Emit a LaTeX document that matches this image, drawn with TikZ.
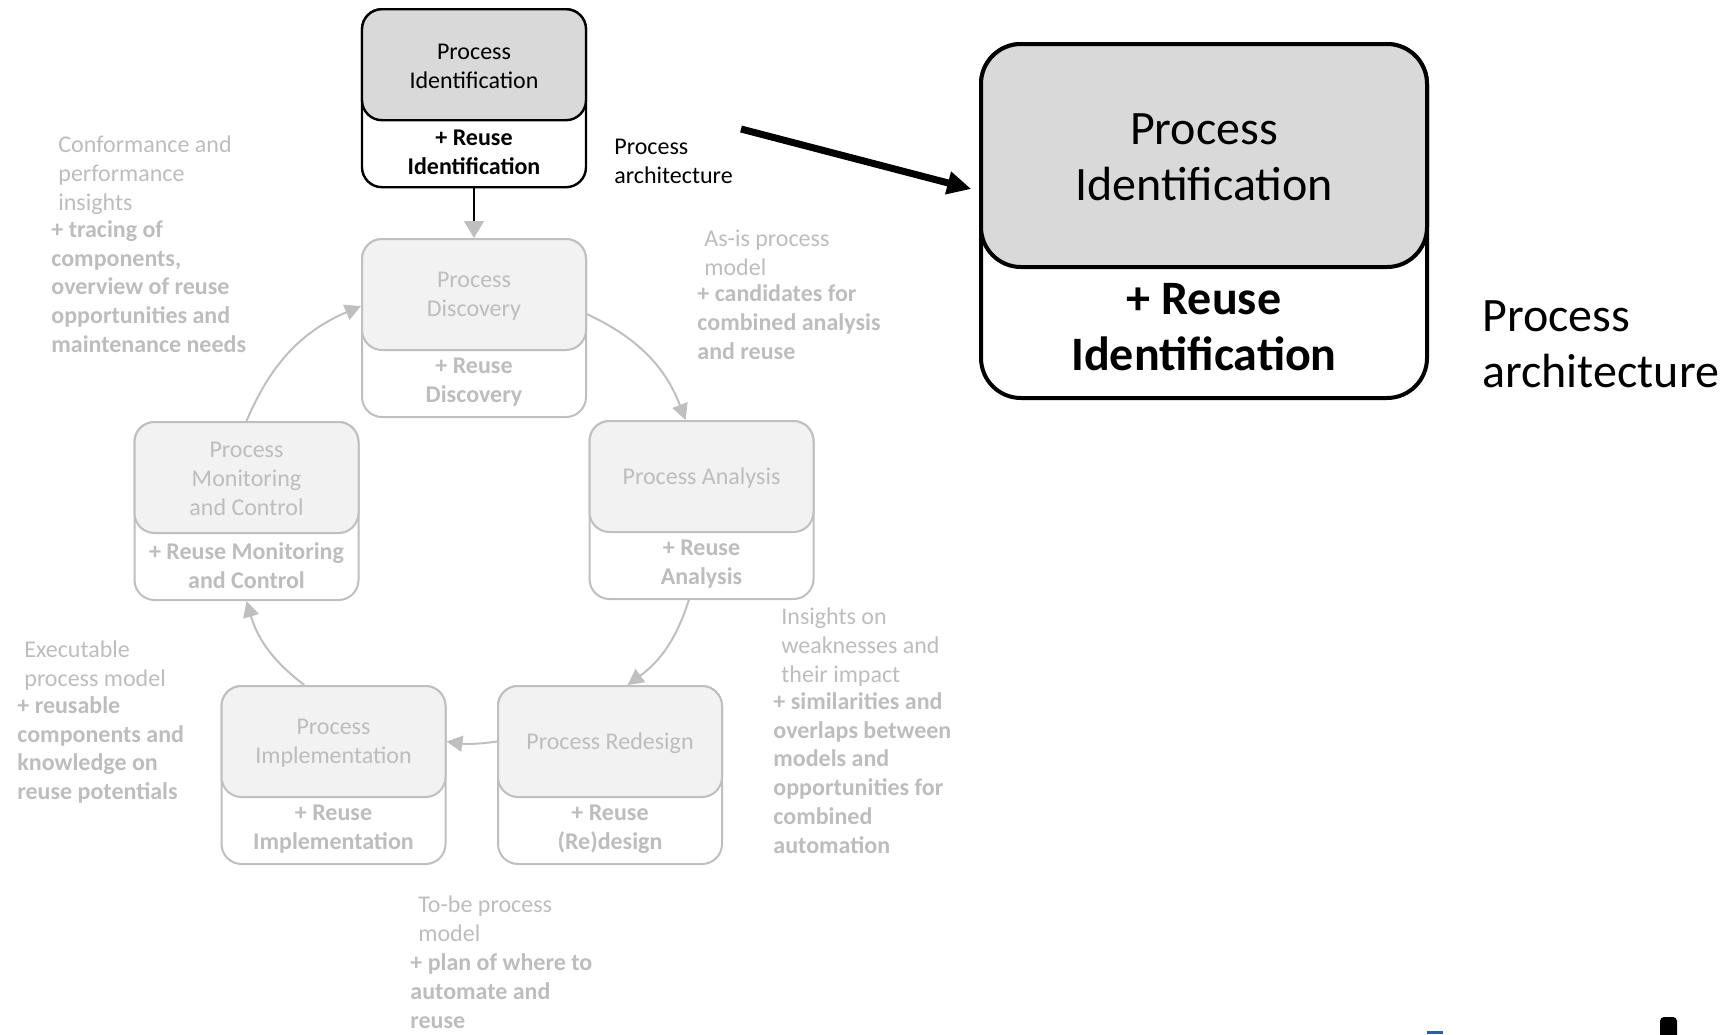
\documentclass[tikz,border=0pt]{standalone}
\usepackage{fontspec}
\setmainfont{Carlito}
\usetikzlibrary{arrows.meta}

\definecolor{headgray}{HTML}{D9D9D9}
\definecolor{fadefill}{HTML}{F2F2F2}
\definecolor{fadeline}{HTML}{BFBFBF}
\definecolor{fadetext}{HTML}{BDBDBD}
\definecolor{linkblue}{HTML}{2E5FA3}

\newcommand\smallfont{\fontsize{12pt}{14.5pt}\selectfont}
\newcommand\largefont{\fontsize{24pt}{28pt}\selectfont}

% one phase of the life cycle: outer frame, shaded head, title, bold footer
% #1 name, #2 centre x, #3 top y, #4 look (strong/fade), #5 head text, #6 footer text
\newcommand\phase[6]{%
  \node[#4frame, anchor=north] (#1) at (#2,#3) {};
  \node[#4head, anchor=north] (#1-head) at (#1.north) {};
  \node[#4title] (#1-title) at (#2,#3+58) {#5};
  \node[#4foot] (#1-foot) at (#2,#3+144.5) {#6};
}

\tikzset{
  framebase/.style={rounded corners=10pt, minimum width=112pt, minimum height=89pt,
    inner sep=0pt, fill=white},
  headbase/.style={rounded corners=10pt, minimum width=112pt, minimum height=55.5pt,
    inner sep=0pt},
  titlebase/.style={align=center, inner sep=0pt, font=\smallfont},
  footbase/.style={align=center, inner sep=0pt, font=\bfseries\smallfont},
  strongframe/.style={framebase, draw=black, line width=1.2pt},
  stronghead/.style={headbase, draw=black, line width=1.2pt, fill=headgray},
  strongtitle/.style={titlebase, text=black},
  strongfoot/.style={footbase, text=black},
  fadeframe/.style={framebase, draw=fadeline, line width=1pt},
  fadehead/.style={headbase, draw=fadeline, line width=1pt, fill=fadefill},
  fadetitle/.style={titlebase, text=fadetext},
  fadefoot/.style={footbase, text=fadetext},
  flow/.style={draw=fadeline, line width=1pt, -{Triangle[length=8pt,width=8pt]}},
  notetext/.style={anchor=west, align=left, inner sep=0pt, text=fadetext,
    font=\fontsize{12pt}{14.4pt}\selectfont},
  notebold/.style={notetext, font=\bfseries\fontsize{12pt}{14.4pt}\selectfont},
}

\begin{document}
\begin{tikzpicture}[x=0.5pt, y=-0.5pt]
\useasboundingbox (0,0) rectangle (1734,1034);

% life-cycle phases
\phase{ident}{474}{8}{strong}{Process\\Identification}{+ Reuse\\Identification}
\phase{disc}{474}{238}{fade}{Process\\Discovery}{+ Reuse\\Discovery}
\phase{anal}{701.5}{420}{fade}{Process Analysis}{+ Reuse\\Analysis}
\phase{mon}{246.5}{421}{fade}{Process\\Monitoring\\and Control}{+ Reuse Monitoring\\and Control}
\phase{redes}{610}{685}{fade}{Process Redesign}{+ Reuse\\(Re)design}
\phase{impl}{333.5}{685}{fade}{Process\\Implementation}{+ Reuse\\Implementation}

% cycle connectors
\draw[line width=1pt, -{Triangle[length=8.5pt,width=10pt,color=fadeline]}] (ident.south) -- (disc.north);
\draw[flow] (disc.7) to[bend left=22] (anal.100);
\draw[flow] (anal.262) to[bend left=18] (redes.79);
\draw[flow] (redes-head.west) to[bend left=8] (impl-head.east);
\draw[flow] (impl.108) to[bend left=18] (mon.south);
\draw[flow] (mon.north) to[bend left=22] (disc.169);

% phase outputs
\node[notetext] (out-mon) at (58,175) {Conformance and\\performance\\insights};
\node[notebold] (out-mon-r) at (51,286.5) {+ tracing of\\components,\\overview of reuse\\opportunities  and\\maintenance needs};
\node[notetext] (out-disc) at (704,253) {As-is process\\model};
\node[notebold] (out-disc-r) at (697,322) {+ candidates for\\combined analysis\\and reuse};
\node[notetext] (out-anal) at (781,647) {Insights on\\weaknesses and\\their impact};
\node[notebold] (out-anal-r) at (773,773) {+ similarities  and\\overlaps between\\models and\\opportunities  for\\combined\\automation};
\node[notetext] (out-impl) at (24,665.5) {Executable\\process model};
\node[notebold] (out-impl-r) at (17,750) {+ reusable\\components and\\knowledge on\\reuse potentials};
\node[notetext] (out-redes) at (418,919) {To-be process\\model};
\node[notebold] (out-redes-r) at (410,991) {+ plan of where to\\automate and\\reuse};

\node[notetext, text=black] (arch) at (614,161) {Process\\architecture};

% enlarged identification phase
\node[draw=black, line width=2pt, rounded corners=20pt, minimum width=223pt,
  minimum height=177pt, inner sep=0pt, fill=white, anchor=north] (big) at (1204,42) {};
\node[draw=black, line width=2pt, rounded corners=20pt, minimum width=223pt,
  minimum height=111.5pt, inner sep=0pt, fill=headgray, anchor=north] (big-head) at (big.north) {};
\node[align=center, inner sep=0pt, font=\largefont] (big-title) at (1204,157)
  {Process\\Identification};
\node[align=center, inner sep=0pt, font=\bfseries\largefont] (big-foot) at (1204,327)
  {+ Reuse\\Identification};
\node[anchor=west, align=left, inner sep=0pt, font=\largefont] (big-arch) at (1482,344)
  {Process\\architecture};

\coordinate (zoomfrom) at (741,129);
\draw[line width=3.5pt, -{Triangle[length=12pt,width=11pt]}, shorten >=4pt]
  (zoomfrom) -- ([yshift=15pt]big.west);

% footer fragments along the lower edge
\fill[linkblue] (1427,1031) rectangle (1443,1034);
\fill[black, rounded corners=2pt] (1660,1017) rectangle (1677,1040);
\end{tikzpicture}
\end{document}
